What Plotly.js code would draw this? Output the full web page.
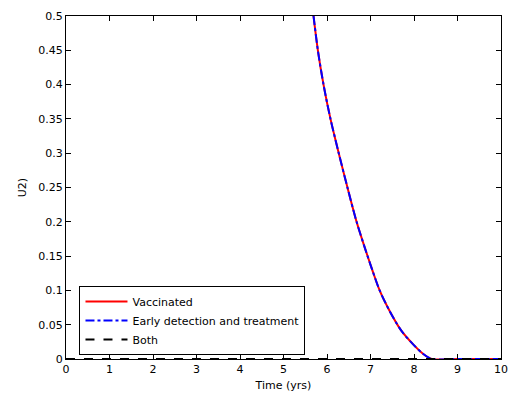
<!DOCTYPE html>
<html>
<head>
<meta charset="utf-8">
<script src="https://cdn.plot.ly/plotly-3.0.1.min.js"></script>
<style>html,body{margin:0;padding:0;background:#fff;}#chart{width:510px;height:394px;}</style>
</head>
<body>
<div id="chart"></div>
<script>
// Data
const timeYrs = [5.69, 5.79, 5.92, 6.08, 6.27, 6.47, 6.68, 6.87, 7.04, 7.21, 7.44, 7.70, 7.97, 8.20, 8.41, 9.0, 10.0];
const vaccinated = [0.5, 0.45, 0.40, 0.35, 0.30, 0.25, 0.20, 0.162, 0.13, 0.10, 0.07, 0.042, 0.022, 0.008, 0, 0, 0];
const earlyDetection = [0.5, 0.45, 0.40, 0.35, 0.30, 0.25, 0.20, 0.162, 0.13, 0.10, 0.07, 0.042, 0.022, 0.008, 0, 0, 0];
const bothTime = [0, 10];
const bothValues = [0, 0];
const xTicks = [0,1,2,3,4,5,6,7,8,9,10];
const yTicks = [0,0.05,0.1,0.15,0.2,0.25,0.3,0.35,0.4,0.45,0.5];
const yTickText = ['0','0.05','0.1','0.15','0.2','0.25','0.3','0.35','0.4','0.45','0.5'];

const FONT = 'DejaVu Sans, Liberation Sans, Arial, sans-serif';

const traces = [
  {x: timeYrs, y: vaccinated, name: 'Vaccinated', mode: 'lines', line: {color: '#ff0000', width: 2, shape: 'spline', smoothing: 0.8}},
  {x: timeYrs, y: earlyDetection, name: 'Early detection and treatment', mode: 'lines', line: {color: '#0000ff', width: 2, dash: 'dashdot', shape: 'spline', smoothing: 0.8}},
  {x: bothTime, y: bothValues, name: 'Both', mode: 'lines', line: {color: '#000000', width: 2, dash: 'dash'}}
];

const axisCommon = {
  showline: true, linecolor: '#000', linewidth: 1, mirror: 'allticks',
  ticks: 'inside', ticklen: 5, tickcolor: '#000', tickwidth: 1,
  showgrid: false, zeroline: false,
  tickfont: {family: FONT, size: 11, color: '#000'}
};

const layout = {
  width: 510, height: 394,
  margin: {l: 66, r: 9, t: 16, b: 35},
  paper_bgcolor: '#fff', plot_bgcolor: '#fff',
  showlegend: true,
  xaxis: Object.assign({}, axisCommon, {
    range: [0, 10], tickvals: xTicks, ticktext: xTicks.map(String),
    title: {text: 'Time (yrs)', font: {family: FONT, size: 11, color: '#000'}, standoff: 6}
  }),
  yaxis: Object.assign({}, axisCommon, {
    range: [0, 0.5], tickvals: yTicks, ticktext: yTickText,
    title: {text: 'U2)', font: {family: FONT, size: 11, color: '#000'}, standoff: 9}
  }),
  legend: {
    x: 0.031, y: 0.213, xanchor: 'left', yanchor: 'top',
    bgcolor: '#fff', bordercolor: '#000', borderwidth: 1,
    font: {family: FONT, size: 11, color: '#000'},
    tracegroupgap: 0, itemwidth: 42
  }
};

Plotly.newPlot('chart', traces, layout, {displayModeBar: false, staticPlot: true});
</script>
</body>
</html>
